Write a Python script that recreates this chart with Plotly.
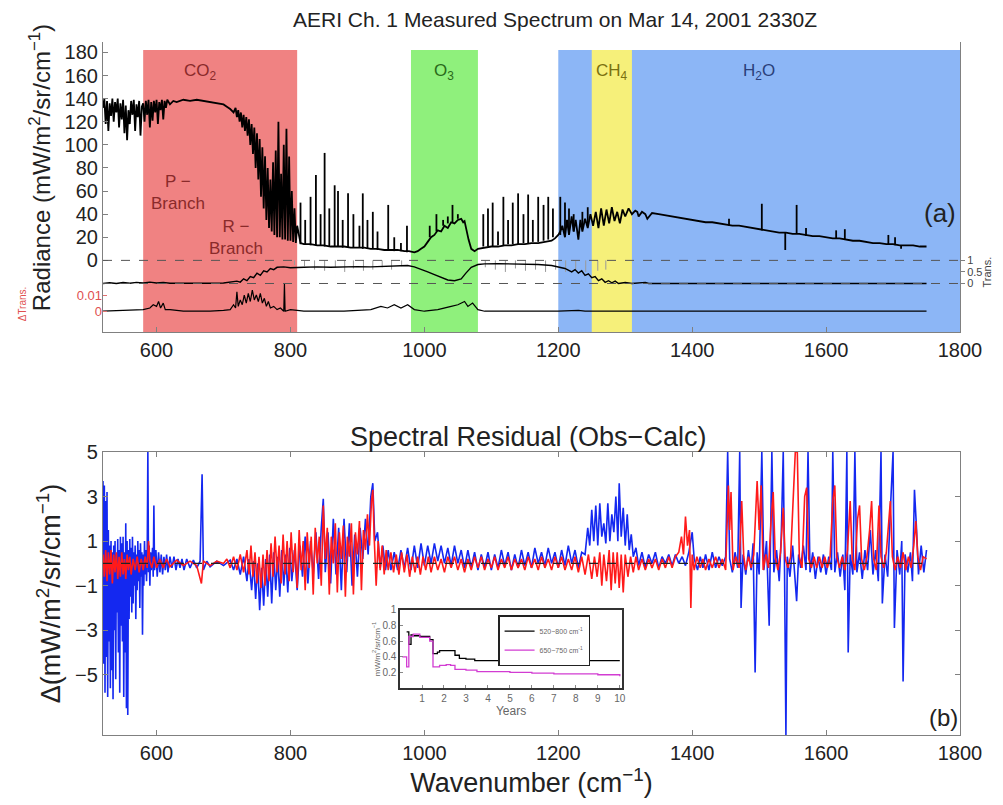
import plotly.graph_objects as go

# ---------------- data ----------------
# (a) measured radiance spectrum, continuous part: wavenumber (cm-1), radiance (mW/m2/sr/cm-1)
spec_wn = [520,522,524,526,528,530,532,534,536,538,540,542,544,546,548,550,552,554,556,558,560,562,564,566,568,570,572,574,576,578,580,
           582,584,586,588,590,592,594,596,598,600,602,604,606,608,610,612,614,616,620,625,630,640,650,660,670,680,690,700,705,710,715,718,
           720,722,724,726,728,730,732,734,736,738,740,742,744,746,748,750,752,754,756,758,760,762,764,766,768,770,772,774,776,778,780,782,
           784,786,788,790,792,794,796,798,800,802,804,806,808,810,815,820,830,840,850,860,870,880,890,900,910,920,930,940,950,960,970,977,
           985,990,995,1000,1005,1010,1015,1020,1025,1030,1035,1040,1045,1050,1055,1058,1060,1063,1066,1070,1075,1080,1090,1100,1110,1120,
           1130,1140,1150,1160,1170,1180,1190,1195,1200,1203,1206,1210,1213,1216,1220,1223,1226,1230,1233,1236,1240,1244,1248,1252,1256,1260,
           1264,1268,1272,1276,1280,1284,1288,1292,1296,1300,1305,1310,1315,1318,1320,1325,1330,1333,1340,1350,1360,1370,1380,1390,1400,1410,
           1420,1430,1440,1450,1460,1470,1480,1490,1500,1510,1520,1530,1540,1550,1560,1570,1580,1590,1600,1610,1620,1630,1640,1650,1660,1670,
           1680,1690,1700,1710,1720,1730,1740,1750]
spec_rad = [132,140,118,138,112,136,125,140,120,137,128,140,115,136,122,139,110,134,104,130,118,138,126,139,112,135,124,138,108,133,136,
            120,138,126,139,115,137,121,138,128,139,118,137,130,139,122,138,132,139,135,138,137,139,138,139,138,137,136,135,133,131,128,132,
            124,130,120,128,115,126,112,124,108,122,100,118,92,115,80,110,70,105,55,98,45,90,35,80,28,70,25,85,22,95,20,120,
            20,75,18,100,18,114,17,90,17,60,16,45,15,30,15,14,14,13,13,12,12,12,11,11,11,10,10,9,9,9,8,8,7,
            8,10,12,16,20,22,26,25,30,28,33,32,35,36,33,34,25,18,10,8,10,11,12,12,13,13,
            14,14,15,15,16,17,19,22,25,30,20,35,22,38,25,35,18,35,25,36,28,40,30,42,28,45,
            30,44,32,46,34,42,32,44,38,45,40,43,42,38,42,40,36,41,40,39,38,37,36,35,34,33,
            33,32,31,30,30,29,28,27,26,25,24,24,23,23,22,21,21,20,19,19,18,17,17,16,15,15,
            14,14,13,13,13,12,12,11]

# (a) narrow absorption-line spikes: wavenumber, foot and tip radiance
spike_wn = [815,822,830,838,845,851,858,866,871,878,886,894,903,908,915,923,930,946,955,965,974,
            1008,1018,1028,1035,1042,1050,
            1088,1095,1102,1110,1118,1125,1132,1140,1148,1155,1162,1170,1178,1185,1192,
            1203,1210,1216,1223,1236,1244,
            1455,1504,1539,1556,1570,1615,1628,1693,1703,1712]
spike_foot = [14,14,13,13,13,12,12,12,12,11,11,11,11,10,10,10,9,9,8,8,7,
              20,25,30,32,33,36,
              12,12,12,13,13,14,14,14,15,15,16,16,17,18,20,
              22,22,24,25,28,30,
              30,26,24,23,21,19,18,14,13,13]
spike_tip = [50,35,55,74,40,93,45,65,60,35,58,40,30,58,35,42,25,48,20,15,30,
             30,40,35,38,48,40,
             40,45,50,25,55,35,50,58,40,57,35,55,48,55,45,
             55,50,45,40,42,46,
             36,49,9,48,28,26,27,22,20,10]

# (a) atmospheric transmittance (right axis "Trans.")
trans_wn = [520,530,540,550,560,570,580,590,600,610,620,640,660,680,700,710,720,725,730,735,740,745,750,755,760,765,770,775,780,790,800,
            820,840,860,880,900,920,940,960,975,985,995,1005,1015,1025,1035,1045,1055,1062,1070,1080,1090,1110,1130,1150,1170,1190,1200,
            1210,1220,1225,1230,1235,1240,1245,1250,1255,1260,1265,1270,1275,1280,1285,1290,1300,1310,1320,1330,1335,1400,1500,1600,1700,1750]
trans_val = [0.0,0.03,0.0,0.04,0.01,0.05,0.02,0.06,0.02,0.05,0.01,0.0,0.0,0.01,0.02,0.05,0.1,0.06,0.2,0.12,0.3,0.25,0.45,0.35,0.55,0.5,0.65,0.6,0.7,0.72,0.68,
             0.7,0.72,0.7,0.72,0.73,0.72,0.74,0.76,0.78,0.72,0.62,0.5,0.38,0.25,0.15,0.12,0.2,0.45,0.7,0.82,0.85,0.86,0.85,0.84,0.82,0.78,0.7,
             0.65,0.5,0.6,0.45,0.55,0.35,0.42,0.25,0.3,0.12,0.2,0.05,0.12,0.03,0.1,0.0,0.04,0.0,0.02,0.05,0.0,0.0,0.0,0.0,0.0,0.0]

# (a) individual absorption lines in the window (gray), wavenumber and line-centre transmittance
line_wn = [806,821,836,851,867,881,894,909,923,937,951,966,1091,1106,1121,1136,1151,1166,1181,1196,1211,1226,1241,1259,1271]
line_depth = [0.8,0.75,0.6,0.55,0.7,0.5,0.65,0.55,0.6,0.7,0.6,0.75,0.7,0.6,0.5,0.65,0.55,0.6,0.5,0.6,0.5,0.6,0.5,0.55,0.6]

# (a) transmittance change (left red axis "ΔTrans.")
dtrans_wn = [520,560,580,590,595,600,603,606,610,613,620,640,680,700,710,715,718,720,722,725,728,731,734,737,740,743,746,749,752,755,758,
             761,764,767,770,775,780,785,790,791,792,800,820,880,920,935,945,955,965,975,985,1000,1020,1040,1050,1060,1065,1072,1080,1090,
             1200,1230,1240,1300,1750]
dtrans_val = [0.0,0.0005,0.001,0.002,0.004,0.003,0.006,0.002,0.005,0.001,0.001,0.0,0.0,0.0005,0.001,0.004,0.002,0.012,0.003,0.007,0.004,0.01,0.005,0.011,0.006,0.013,0.007,0.01,0.006,0.011,0.005,
              0.008,0.003,0.006,0.002,0.003,0.001,0.002,0.0,0.017,0.0,0.001,0.0,0.0,0.001,0.003,0.002,0.004,0.002,0.004,0.001,0.0,0.001,0.003,0.004,0.006,0.003,0.005,0.001,0.0,
              0.0,0.0005,0.0,0.0,0.0]

# (b) spectral residuals (Obs-Calc), blue series
blue_wn = [520,521,522,523,524,525,526,527,528,529,530,531,532,533,534,535,536,537,538,539,540,541,542,543,544,545,546,547,548,549,550,551,552,553,554,555,556,557,558,559,
           560,561,562,563,564,565,566,567,568,569,570,571,572,573,574,575,576,577,578,579,580,581,582,583,584,585,586,587,588,589,590,591,592,594,595,596,597,599,601,603,
           605,607,609,611,613,615,617,620,623,626,629,632,635,638,641,645,650,655,660,665,668,670,675,680,690,700,710,715,720,725,730,735,738,742,745,748,751,754,757,760,
           763,766,769,772,775,778,781,784,787,790,793,796,799,802,806,810,814,818,822,826,830,834,838,842,846,849,852,856,860,864,868,872,876,880,884,888,892,896,900,904,
           908,912,916,920,923,926,930,934,938,942,946,950,955,960,965,970,975,980,985,990,995,1000,1005,1010,1015,1020,1025,1030,1035,1040,1045,1050,1055,1060,1065,1070,1075,1080,1085,1090,
           1095,1100,1105,1110,1115,1120,1125,1130,1135,1140,1145,1150,1155,1160,1165,1170,1175,1180,1185,1190,1195,1200,1205,1210,1215,1220,1225,1230,1235,1240,1244,1247,1250,1253,1256,1259,1262,1265,1268,1271,
           1274,1277,1280,1283,1286,1289,1291,1294,1297,1300,1303,1306,1309,1312,1316,1320,1325,1330,1335,1340,1345,1350,1355,1360,1365,1370,1375,1380,1385,1390,1395,1400,1403,1408,1412,1416,1420,1425,1430,1435,
           1440,1445,1450,1453,1456,1460,1464,1468,1471,1473,1476,1480,1484,1488,1491,1494,1497,1500,1504,1507,1511,1515,1519,1522,1526,1530,1533,1536,1538,1540,1542,1546,1550,1553,1556,1559,1562,1566,1570,1573,
           1576,1580,1584,1588,1592,1596,1600,1604,1608,1610,1613,1617,1621,1625,1628,1631,1633,1636,1640,1643,1646,1650,1654,1658,1662,1666,1670,1674,1678,1682,1684,1688,1692,1696,1700,1702,1706,1710,1713,1715,
           1718,1722,1726,1729,1732,1735,1738,1742,1746,1750]
blue_res = [3.7,-4.5,3.5,-5.8,2.8,-4.2,3.2,-6.0,1.5,-3.5,0.8,-5.6,1.0,-4.8,0.5,-6.1,0.8,-3.0,1.0,-5.2,0.4,-2.2,1.1,-4.0,0.6,-5.8,1.2,-2.8,0.9,-3.5,1.2,-6.0,0.5,-4.0,1.8,-6.5,1.0,-6.8,0.6,-2.5,
            1.1,-1.5,0.7,-2.2,1.2,-1.8,0.5,-1.0,0.8,-2.5,0.4,-1.2,1.0,-0.8,0.6,-2.0,0.9,-0.6,0.5,-3.2,0.4,-1.0,1.0,-0.5,0.6,-0.8,0.3,5.0,-0.4,0.8,-1.0,0.5,-0.3,0.7,-0.6,2.6,-0.3,0.6,-0.6,0.5,
            -0.4,0.4,-0.5,0.3,-0.3,0.4,-0.4,0.3,-0.2,0.3,-0.3,0.2,-0.2,0.2,-0.3,0.2,-0.2,0.15,-0.2,0.1,4.0,-0.3,0.1,-0.15,0.1,-0.1,0.15,-0.3,0.2,-0.5,0.3,-0.8,0.2,-1.2,0.1,-1.6,0.0,-2.1,-0.2,-1.9,
            0.2,-1.5,0.4,-1.8,0.5,-1.2,0.3,-1.5,0.6,-1.0,0.4,-1.3,0.7,-0.8,0.6,-1.2,0.8,-0.6,1.2,-0.9,1.0,-0.5,1.4,-0.7,1.6,2.9,-0.4,1.4,-0.9,2.0,-0.5,1.6,-1.2,2.0,-0.4,1.8,-1.0,1.3,-0.6,1.6,
            0.2,2.0,0.4,3.0,3.6,1.0,1.4,-0.2,0.8,-0.3,0.6,-0.3,0.5,-0.3,0.6,-0.2,0.7,-0.3,0.8,-0.2,0.9,-0.1,0.8,0.0,0.9,0.1,0.8,0.0,0.7,-0.1,0.8,0.0,0.6,-0.2,0.6,-0.2,0.5,-0.3,0.4,-0.2,
            0.5,-0.3,0.4,-0.2,0.6,-0.1,0.5,-0.3,0.4,-0.2,0.6,-0.1,0.5,-0.2,0.7,0.0,0.5,-0.1,0.7,0.0,0.5,-0.2,0.6,-0.1,0.8,0.0,0.6,-0.2,0.5,0.4,1.6,0.8,2.4,1.0,2.6,0.8,2.7,1.2,1.8,0.9,
            2.7,1.0,2.2,1.4,3.0,1.0,3.6,1.2,2.5,0.8,2.2,0.6,1.3,0.3,0.7,-0.1,0.5,-0.2,0.4,0.0,0.5,-0.2,0.3,0.0,0.4,-0.1,0.4,0.0,0.3,-0.1,0.5,1.4,0.2,-0.3,0.3,-0.2,0.4,-0.3,0.5,-0.2,
            0.3,-0.1,0.3,5.0,0.2,-0.4,0.5,-0.2,5.0,-2.0,0.4,-0.5,0.6,-0.3,0.9,-4.9,0.5,-0.5,5.0,-0.3,1.0,-2.8,5.0,-0.4,0.6,-0.8,1.2,5.0,-0.5,-7.7,0.3,-0.6,0.8,-0.3,-1.7,0.4,-0.2,0.8,-0.3,5.0,
            -0.4,0.5,-0.7,0.3,-0.4,0.4,-0.5,0.3,-0.3,5.0,-0.4,0.5,-0.6,0.4,-1.2,5.0,-4.0,0.4,-0.5,5.0,-0.4,0.5,-0.7,0.6,-0.3,1.5,-0.5,0.6,-0.8,5.0,-1.8,0.4,-0.6,2.4,5.0,-2.9,0.6,-0.5,1.0,-5.3,
            0.4,-0.4,0.5,-0.8,3.3,1.6,-0.5,0.8,-0.4,0.6]

# (b) spectral residuals (Obs-Calc), red series
red_wn = [520,522,524,526,528,530,532,534,536,538,540,542,544,546,548,550,552,554,556,558,560,562,565,568,571,574,577,580,583,586,588,590,593,596,600,605,610,615,620,630,
          640,650,660,667,670,680,690,700,705,710,715,720,725,730,735,738,741,744,747,750,753,756,759,762,765,768,771,774,777,780,783,786,789,792,795,798,801,804,807,810,
          813,816,819,822,825,828,831,834,837,840,843,846,849,852,855,858,861,864,867,870,873,876,879,882,885,888,891,894,897,900,903,906,909,912,915,918,921,923,925,928,
          931,934,937,940,943,946,950,954,958,962,966,970,974,978,982,986,990,994,998,1002,1006,1010,1015,1020,1025,1030,1035,1040,1045,1050,1055,1060,1065,1070,1075,1080,1085,1090,1095,1100,
          1105,1110,1115,1120,1125,1130,1135,1140,1145,1150,1155,1160,1165,1170,1175,1180,1185,1190,1195,1200,1205,1210,1215,1220,1225,1230,1235,1240,1245,1250,1254,1258,1262,1265,1268,1272,1276,1279,1282,1285,
          1288,1291,1294,1297,1300,1304,1308,1312,1316,1320,1325,1330,1335,1340,1345,1350,1355,1360,1365,1370,1375,1380,1384,1387,1390,1393,1396,1398,1400,1403,1407,1412,1416,1420,1425,1430,1435,1440,1445,1450,
          1454,1456,1458,1461,1465,1470,1474,1477,1480,1484,1488,1492,1497,1500,1503,1506,1510,1514,1518,1521,1524,1528,1532,1536,1539,1543,1547,1551,1554,1557,1560,1564,1568,1571,1574,1578,1582,1586,1590,1594,
          1598,1602,1606,1610,1613,1616,1620,1624,1628,1632,1636,1639,1643,1647,1650,1653,1657,1661,1665,1668,1671,1675,1679,1682,1686,1690,1693,1696,1699,1703,1707,1711,1715,1719,1723,1727,1731,1734,1737,1741,
          1745,1750]
red_res = [0.4,-0.6,0.6,-0.8,0.5,-0.5,0.6,-0.9,0.4,-0.4,0.5,-0.7,0.3,-0.6,0.5,-0.5,0.2,-0.7,0.4,-0.3,0.3,-0.5,0.2,-0.3,0.3,-0.4,0.2,-0.3,0.3,-0.2,1.0,0.1,-0.2,0.3,-0.2,0.2,-0.2,0.2,-0.15,0.15,
           -0.1,0.1,-0.1,-0.9,0.1,-0.1,0.1,0.0,0.2,-0.2,0.3,-0.3,0.4,-0.4,0.6,-0.5,0.8,-0.6,0.5,-0.9,0.3,-1.1,0.4,-1.0,0.6,-0.8,0.9,-0.6,1.2,-0.4,0.8,-0.9,1.3,-0.5,1.0,-0.8,1.4,-0.4,0.9,-1.1,
           1.5,-0.3,1.0,-1.2,1.4,-0.2,1.2,-1.4,1.6,0.0,1.2,-1.0,2.6,0.2,1.6,-1.4,1.2,0.0,1.8,-1.3,1.4,0.2,1.7,-1.5,1.2,0.3,1.8,-1.4,1.4,0.4,1.9,-1.2,1.5,0.6,2.2,0.8,2.8,3.3,1.2,-1.0,
           1.0,-0.3,0.8,-0.5,0.6,-0.3,0.5,-0.4,0.4,-0.5,0.5,-0.4,0.4,-0.6,0.3,-0.4,0.3,-0.5,0.3,-0.3,0.3,-0.4,0.3,-0.3,0.2,-0.4,0.3,-0.2,0.3,-0.3,0.2,-0.4,0.2,-0.3,0.3,-0.2,0.3,-0.3,0.2,-0.2,
           0.3,-0.3,0.2,-0.2,0.3,-0.3,0.2,-0.2,0.2,-0.3,0.3,-0.2,0.2,-0.3,0.3,-0.2,0.2,-0.3,0.3,-0.2,0.3,-0.3,0.2,-0.3,0.3,-0.4,0.3,-0.5,0.4,-0.7,0.3,-0.6,0.5,-1.0,0.4,-0.8,0.6,-1.2,0.5,-0.9,
           0.5,-1.1,0.4,-1.3,0.4,-0.6,0.3,-0.4,0.3,-0.3,0.2,-0.3,0.2,-0.2,0.2,-0.3,0.2,-0.2,0.3,-0.2,0.3,0.5,1.2,0.4,2.1,0.8,1.5,-2.0,0.4,-0.3,0.3,-0.2,0.2,-0.3,0.2,-0.2,0.3,-0.2,0.2,-0.3,
           3.5,1.5,3.2,-0.3,0.3,-0.2,2.8,0.3,-0.3,0.3,-0.2,0.4,3.7,1.5,3.5,-0.3,0.4,-0.2,2.0,3.2,0.3,-0.3,0.5,2.5,0.2,-0.2,0.3,3.4,5.0,5.0,0.3,-0.2,3.0,3.4,0.2,-0.2,0.3,-0.2,0.3,-0.2,
           0.3,-0.2,0.3,2.8,3.5,0.3,-0.2,0.3,-0.3,0.6,2.8,0.2,-0.3,2.0,2.6,0.2,-0.3,0.3,1.5,2.8,0.2,-0.3,2.6,0.3,-0.2,0.5,1.6,2.8,0.3,-0.3,0.3,-0.2,0.5,-0.3,0.3,-0.2,0.8,1.9,0.3,-0.3,
           0.3,0.2]

# inset: residual RMS vs. years
years_a = [0.3,0.4,0.5,0.6,0.9,1.2,1.35,1.5,1.7,1.8,2.3,2.5,2.7,3.0,3.4,4,5,5.6,5.8,6.1,6.3,7,8,9,10]
rms_a = [0.72,0.56,0.68,0.67,0.66,0.66,0.62,0.44,0.46,0.48,0.48,0.42,0.38,0.37,0.35,0.35,0.35,0.35,0.37,0.37,0.35,0.35,0.35,0.35,0.35]
years_b = [0.1,0.3,0.4,0.6,0.9,1.2,1.35,1.5,1.8,2.1,2.3,2.5,3.0,3.5,4,5,6,7,8,9,10]
rms_b = [0.40,0.27,0.66,0.69,0.65,0.65,0.60,0.27,0.29,0.30,0.29,0.24,0.23,0.21,0.21,0.20,0.19,0.18,0.18,0.17,0.15]

# absorber bands: name, start, end, fill colour, label colour
bands = [("CO<sub>2</sub>", 580, 810, "#f08282", "#8a2a2a"),
         ("O<sub>3</sub>", 980, 1080, "#8ff07c", "#2a6a1a"),
         ("", 1200, 1800, "#8cb6f6", "#1a3a8a"),
         ("CH<sub>4</sub>", 1250, 1310, "#f6f07a", "#7a7010"),
         ("H<sub>2</sub>O", 1500, 1500, None, "#2a3f7a")]

# mapping of the auxiliary scales onto the radiance axis of panel (a)
R_MIN, R_MAX = -62, 189
T_ZERO, T_ONE = -20, 0        # radiance-axis position of Trans = 0 and Trans = 1
DT_ZERO, DT_PER_UNIT = -44, 1400

FONT = "Liberation Sans, Arial, Helvetica, sans-serif"

fig = go.Figure()

# ---- panel (a) ----
for name, x0, x1, fill, _ in bands:
    if fill:
        fig.add_shape(type="rect", xref="x", yref="y", x0=x0, x1=x1, y0=R_MIN, y1=182,
                      fillcolor=fill, line_width=0, layer="below")

fig.add_shape(type="line", xref="x", yref="y", x0=520, x1=1800, y0=0, y1=0,
              line=dict(color="#555", width=1, dash="dash"))
fig.add_shape(type="line", xref="x", yref="y3", x0=520, x1=1800, y0=0, y1=0,
              line=dict(color="#555", width=1, dash="dash"))

fig.add_trace(go.Scatter(x=spec_wn, y=spec_rad, mode="lines", line=dict(color="black", width=1.8),
                         xaxis="x", yaxis="y", showlegend=False))
sx, sy = [], []
for w, f, t in zip(spike_wn, spike_foot, spike_tip):
    sx += [w, w, None]
    sy += [f, t, None]
fig.add_trace(go.Scatter(x=sx, y=sy, mode="lines", line=dict(color="black", width=1.8),
                         xaxis="x", yaxis="y", showlegend=False))

gx, gy = [], []
for w, d in zip(line_wn, line_depth):
    gx += [w, w, None]
    gy += [1, d, None]
fig.add_trace(go.Scatter(x=gx, y=gy, mode="lines", line=dict(color="#9a9a9a", width=1),
                         xaxis="x", yaxis="y3", showlegend=False))
fig.add_trace(go.Scatter(x=trans_wn, y=trans_val, mode="lines", line=dict(color="black", width=1.4),
                         xaxis="x", yaxis="y3", showlegend=False))
fig.add_trace(go.Scatter(x=dtrans_wn, y=dtrans_val, mode="lines", line=dict(color="black", width=1.2),
                         xaxis="x", yaxis="y4", showlegend=False))

# ---- panel (b) ----
fig.add_trace(go.Scatter(x=blue_wn, y=blue_res, mode="lines", line=dict(color="#1428f0", width=1.6),
                         xaxis="x2", yaxis="y2", showlegend=False))
fig.add_trace(go.Scatter(x=red_wn, y=red_res, mode="lines", line=dict(color="#ff1a1a", width=1.6),
                         xaxis="x2", yaxis="y2", showlegend=False))
fig.add_shape(type="line", xref="x2", yref="y2", x0=520, x1=1750, y0=0, y1=0,
              line=dict(color="#222", width=1.2, dash="dash"))

# ---- inset ----
fig.add_trace(go.Scatter(x=years_a, y=rms_a, mode="lines", line=dict(color="black", width=1.3, shape="hv"),
                         xaxis="x3", yaxis="y5", name="520\u2212800 cm<sup>-1</sup>"))
fig.add_trace(go.Scatter(x=years_b, y=rms_b, mode="lines", line=dict(color="#d23cd2", width=1.3, shape="hv"),
                         xaxis="x3", yaxis="y5", name="650\u2212750 cm<sup>-1</sup>"))

TOP0, TOP1 = 0.5815, 1.0
BOT0, BOT1 = 0.0, 0.4084
axis_common = dict(showline=True, linecolor="#808080", linewidth=1.2, ticks="inside", ticklen=5,
                   tickcolor="#808080", showgrid=False, zeroline=False, automargin=False,
                   tickfont=dict(family=FONT, size=20, color="#222"))
t_rng = [(R_MIN - T_ZERO) / (T_ONE - T_ZERO), (R_MAX - T_ZERO) / (T_ONE - T_ZERO)]
dt_rng = [(R_MIN - DT_ZERO) / DT_PER_UNIT, (R_MAX - DT_ZERO) / DT_PER_UNIT]

# the page body adds an 8 px offset, so the figure is 8 px smaller than the window
fig.update_layout(
    width=995, height=797, autosize=False,
    margin=dict(l=95, r=43, t=34, b=70),
    paper_bgcolor="white", plot_bgcolor="rgba(0,0,0,0)",
    font=dict(family=FONT, color="#222"),
    xaxis=dict(domain=[0, 1], anchor="y", range=[520, 1800], tickvals=list(range(600, 1801, 200)), **axis_common),
    yaxis=dict(domain=[TOP0, TOP1], anchor="x", range=[R_MIN, R_MAX], tickvals=list(range(0, 181, 20)), mirror=True,
               **axis_common),
    yaxis3=dict(overlaying="y", anchor="x", side="right", range=t_rng, tickvals=[0, 0.5, 1], ticktext=["0", "0.5", "1"],
                showgrid=False, zeroline=False, showline=False, ticks="outside", ticklen=4, tickcolor="#808080",
                automargin=False, tickfont=dict(family=FONT, size=11, color="#444")),
    yaxis4=dict(overlaying="y", anchor="x", side="left", range=dt_rng, tickvals=[0, 0.01], ticktext=["0", "0.01"],
                showgrid=False, zeroline=False, showline=False, ticks="inside", ticklen=4, tickcolor="#e07070",
                automargin=False, tickfont=dict(family=FONT, size=13, color="#e05050")),
    xaxis2=dict(domain=[0, 1], anchor="y2", range=[520, 1800], tickvals=list(range(600, 1801, 200)), mirror="ticks",
                title=dict(text="Wavenumber (cm<sup>\u22121</sup>)", font=dict(family=FONT, size=27), standoff=2),
                **axis_common),
    yaxis2=dict(domain=[BOT0, BOT1], anchor="x2", range=[-7.7, 5], tickvals=[-5, -3, -1, 1, 3, 5],
                ticktext=["\u22125", "\u22123", "\u22121", "1", "3", "5"], mirror="ticks",
                title=dict(text="\u0394(mW/m<sup>2</sup>/sr/cm<sup>\u22121</sup>)", font=dict(family=FONT, size=27), standoff=6),
                **axis_common),
    xaxis3=dict(domain=[0.3466, 0.6056], anchor="y5", range=[0, 10.1], tickvals=list(range(1, 11)),
                showline=True, mirror=True, linecolor="#333", linewidth=1.5, ticks="inside", ticklen=3, tickcolor="#888",
                showgrid=False, zeroline=False, automargin=False, tickfont=dict(family=FONT, size=10, color="#666"),
                title=dict(text="Years", font=dict(family=FONT, size=12, color="#666"), standoff=2)),
    yaxis5=dict(domain=[0.0678, 0.1804], anchor="x3", range=[0, 1], tickvals=[0.2, 0.4, 0.6, 0.8, 1],
                ticktext=["0.2", "0.4", "0.6", "0.8", "1"],
                showline=True, mirror=True, linecolor="#333", linewidth=1.5, ticks="inside", ticklen=3, tickcolor="#888",
                showgrid=False, zeroline=False, automargin=False, tickfont=dict(family=FONT, size=10, color="#666"),
                title=dict(text="mW/m<sup>2</sup>/sr/cm<sup>\u22121</sup>", font=dict(family=FONT, size=8, color="#666"), standoff=1)),
    legend=dict(x=0.461, y=0.173, xanchor="left", yanchor="top", bgcolor="white", bordercolor="#222", borderwidth=1.5,
                font=dict(family=FONT, size=7, color="#666"), tracegroupgap=0, itemwidth=30),
)

ann = []
# titles
ann.append(dict(text="AERI Ch. 1 Measured Spectrum on Mar 14, 2001 2330Z", x=0.527, y=1.032, xref="paper", yref="paper",
                xanchor="center", yanchor="middle", showarrow=False, borderpad=0, font=dict(family=FONT, size=21, color="#222")))
ann.append(dict(text="Spectral Residual (Obs\u2212Calc)", x=0.496, y=0.430, xref="paper", yref="paper",
                xanchor="center", yanchor="middle", showarrow=False, borderpad=0, font=dict(family=FONT, size=27, color="#222")))
# panel (a) y-axis title (placed like the reference, above the transmittance scales)
ann.append(dict(text="Radiance (mW/m<sup>2</sup>/sr/cm<sup>\u22121</sup>)", x=-0.0735, y=0.818, xref="paper", yref="paper",
                xanchor="center", yanchor="middle", textangle=-90, showarrow=False, borderpad=0,
                font=dict(family=FONT, size=24, color="#222")))
# band labels
label_pos = {"CO<sub>2</sub>": 665, "O<sub>3</sub>": 1030, "CH<sub>4</sub>": 1280, "H<sub>2</sub>O": 1500}
for name, x0, x1, fill, col in bands:
    if name:
        ann.append(dict(text=name, x=label_pos[name], y=163, xref="x", yref="y", showarrow=False,
                        xanchor="center", yanchor="middle", font=dict(family=FONT, size=17, color=col)))
ann.append(dict(text="P \u2212<br>Branch", x=632, y=59, xref="x", yref="y", showarrow=False,
                xanchor="center", yanchor="middle", font=dict(family=FONT, size=17, color="#8a2a2a")))
ann.append(dict(text="R \u2212<br>Branch", x=719, y=20, xref="x", yref="y", showarrow=False,
                xanchor="center", yanchor="middle", font=dict(family=FONT, size=17, color="#8a2a2a")))
ann.append(dict(text="(a)", x=1770, y=41, xref="x", yref="y", showarrow=False,
                xanchor="center", yanchor="middle", font=dict(family=FONT, size=26, color="#222")))
ann.append(dict(text="(b)", x=1775, y=-6.9, xref="x2", yref="y2", showarrow=False,
                xanchor="center", yanchor="middle", font=dict(family=FONT, size=24, color="#222")))
# auxiliary axis titles
ann.append(dict(text="\u0394Trans.", x=-0.0945, y=-38, xref="paper", yref="y", showarrow=False, textangle=-90,
                xanchor="center", yanchor="middle", font=dict(family=FONT, size=10, color="#e05050")))
ann.append(dict(text="Trans.", x=1.031, y=-10, xref="paper", yref="y", showarrow=False, textangle=-90,
                xanchor="center", yanchor="middle", borderpad=0, font=dict(family=FONT, size=11, color="#444")))
fig.update_layout(annotations=ann)

fig.write_html("out.html")
